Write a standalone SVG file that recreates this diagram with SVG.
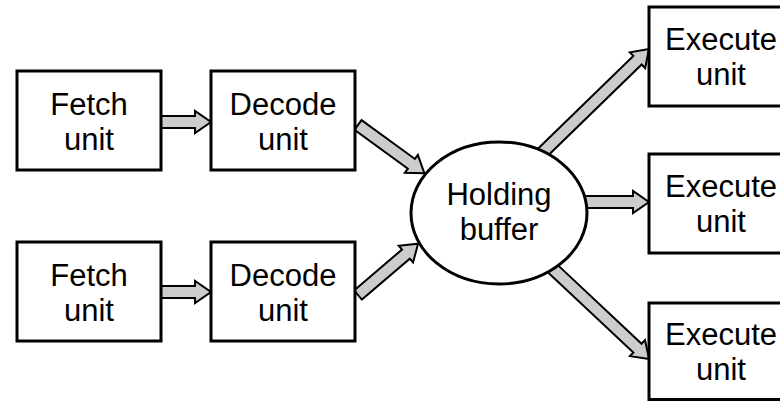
<svg xmlns="http://www.w3.org/2000/svg" width="780" height="401" viewBox="0 0 780 401">
<style>
.box{fill:#fff;stroke:#000;stroke-width:3}
.arr{fill:#ccc;stroke:#000;stroke-width:2;stroke-linejoin:miter}
.t{font-family:"Liberation Sans",Arial,sans-serif;font-size:31px;fill:#000;text-anchor:middle}
</style>
<rect width="780" height="401" fill="#fff"/>
<g id="connectors">
<path class="arr" transform="translate(161,122)" d="M0,-6H34V-11L50,0L34,11V6H0Z"/>
<path class="arr" transform="translate(161,292)" d="M0,-6H34V-11L50,0L34,11V6H0Z"/>
<path class="arr" transform="translate(358,125) rotate(36)" d="M0,-6H66V-11L82,0L66,11V6H0Z"/>
<path class="arr" transform="translate(358,295) rotate(-40.5)" d="M0,-6H63V-11L79,0L63,11V6H0Z"/>
<path class="arr" transform="translate(540,155) rotate(-44.2)" d="M0,-6H136V-11L152,0L136,11V6H0Z"/>
<path class="arr" transform="translate(584,202)" d="M0,-6H49V-11L65,0L49,11V6H0Z"/>
<path class="arr" transform="translate(550,266) rotate(43.2)" d="M0,-6H120V-11L136,0L120,11V6H0Z"/>
</g>
<g id="fetch1"><rect class="box" x="17" y="71" width="144" height="99"/><text class="t" x="89" y="115">Fetch</text><text class="t" x="89" y="150">unit</text></g>
<g id="decode1"><rect class="box" x="211" y="71" width="144" height="99"/><text class="t" x="283" y="115">Decode</text><text class="t" x="283" y="150">unit</text></g>
<g id="fetch2"><rect class="box" x="17" y="242" width="144" height="99"/><text class="t" x="89" y="286">Fetch</text><text class="t" x="89" y="321">unit</text></g>
<g id="decode2"><rect class="box" x="211" y="242" width="144" height="99"/><text class="t" x="283" y="286">Decode</text><text class="t" x="283" y="321">unit</text></g>
<g id="buffer"><ellipse class="box" cx="499" cy="213" rx="88" ry="71"/><text class="t" x="499" y="205">Holding</text><text class="t" x="499" y="240">buffer</text></g>
<g id="exec1"><rect class="box" x="649" y="7" width="144" height="99"/><text class="t" x="721" y="50">Execute</text><text class="t" x="721" y="85">unit</text></g>
<g id="exec2"><rect class="box" x="649" y="154" width="144" height="99"/><text class="t" x="721" y="197">Execute</text><text class="t" x="721" y="232">unit</text></g>
<g id="exec3"><rect class="box" x="649" y="303" width="144" height="96.5"/><text class="t" x="721" y="345">Execute</text><text class="t" x="721" y="380">unit</text></g>
</svg>
